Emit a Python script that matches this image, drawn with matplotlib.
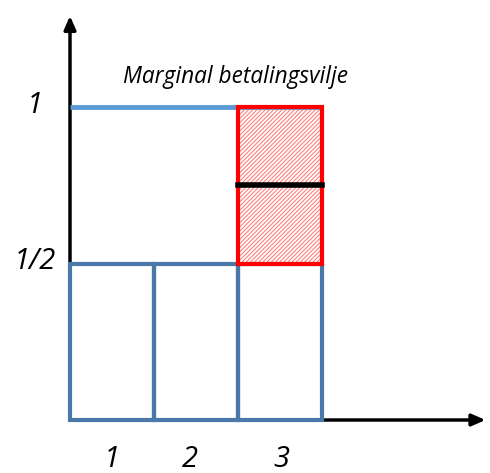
import matplotlib.pyplot as plt
from matplotlib.patches import Rectangle

plt.rcParams['hatch.linewidth'] = 0.8

# data
units = [1, 2, 3]
unit_price = [0.5, 0.5, 0.5]
wtp = 1.0
extra_start = 2
extra_top = 1.0
mid_line = 0.75
y_labels = ["1/2", "1"]
y_label_pos = [0.5, 1.0]
x_labels = ["1", "2", "3"]
x_label_pos = [0.5, 1.43, 2.52]

blue_box = "#4A78A8"
blue_line = "#5B9BD5"
font = "Open Sans"

fig = plt.figure(figsize=(4.9, 4.73), dpi=100)
ax = fig.add_axes([0, 0, 1, 1])
ax.set_xlim(-70 / 84, 420 / 84)
ax.set_ylim(-53 / 313, 420 / 313)
ax.axis("off")

# axes arrows
ax.annotate("", xy=(0, 1.30), xytext=(0, -0.005),
            arrowprops=dict(arrowstyle="-|>,head_length=0.8,head_width=0.35", color="black", lw=2.5))
ax.annotate("", xy=(4.98, 0), xytext=(-0.005, 0),
            arrowprops=dict(arrowstyle="-|>,head_length=0.8,head_width=0.35", color="black", lw=2.5))

# hatched red area
ax.add_patch(Rectangle((extra_start, unit_price[2]), 1, extra_top - unit_price[2],
                       facecolor="white", edgecolor="#FF8080", hatch="////////", lw=0, zorder=2))
ax.add_patch(Rectangle((extra_start, unit_price[2]), 1, extra_top - unit_price[2],
                       fill=False, edgecolor="#FF0000", lw=3, zorder=4))
ax.plot([extra_start, extra_start + 1], [mid_line, mid_line], color="black", lw=4, zorder=5)

# blue unit boxes
for u, h in zip(units, unit_price):
    ax.add_patch(Rectangle((u - 1, 0), 1, h, fill=False, edgecolor=blue_box, lw=3, zorder=3))

# willingness to pay line
ax.plot([0, 3], [wtp, wtp], color=blue_line, lw=3.5, zorder=3, solid_capstyle="butt")
ax.text(0.63, 1.095, "Marginal betalingsvilje", fontsize=16.3, style="italic",
        family=font, ha="left", va="center")

for lab, y in zip(y_labels, y_label_pos):
    ax.text(-0.42, y + 0.005, lab, fontsize=21, style="italic", family=font,
            ha="center", va="center")
for lab, x in zip(x_labels, x_label_pos):
    ax.text(x, -0.125, lab, fontsize=21, style="italic", family=font,
            ha="center", va="center")

fig.savefig("out.png", dpi=100)
